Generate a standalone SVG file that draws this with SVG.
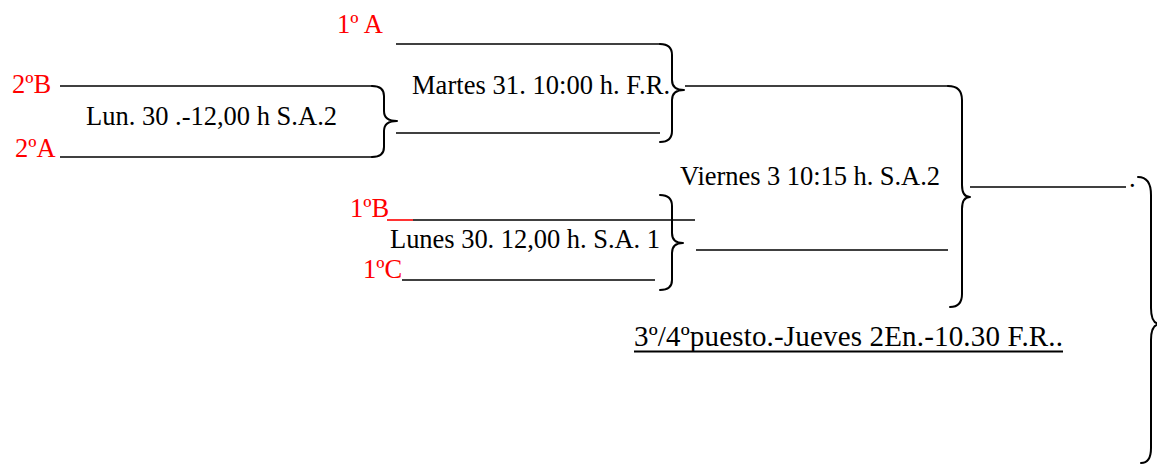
<svg xmlns="http://www.w3.org/2000/svg" width="1157" height="465" viewBox="0 0 1157 465">
<style>
text{font-family:"Liberation Serif","Times New Roman",serif;font-size:26.5px;fill:#000}
.red{fill:#ff0000}
.ln{stroke:#000;stroke-width:1.6;fill:none}
.redln{stroke:#ff0000;stroke-width:1.6;fill:none}
.br{stroke:#000;stroke-width:2;fill:none;stroke-linecap:round;stroke-linejoin:round}
</style>
<rect width="1157" height="465" fill="#fff"/>
<g id="team-1A"><text class="red" x="337" y="33">1º A</text></g>
<g id="team-2B"><text class="red" x="12" y="93">2ºB</text></g>
<g id="team-2A"><text class="red" x="15" y="157">2ºA</text></g>
<g id="team-1B"><text class="red" x="350" y="217">1ºB</text></g>
<g id="team-1C"><text class="red" x="363" y="278">1ºC</text></g>
<g id="match-lun30-sa2">
<text x="86" y="125" textLength="251" lengthAdjust="spacing">Lun. 30 .-12,00 h S.A.2</text>
<path class="br" d="M372,86 Q384,86 384,96 L384,111 Q384,121 397,121 Q384,121 384,131 L384,147 Q384,157 372,157"/>
</g>
<g id="match-martes31">
<text x="412" y="94" textLength="258" lengthAdjust="spacing">Martes 31. 10:00 h. F.R.</text>
<path class="br" d="M660,44 Q672,44 672,55 L672,80 Q672,90 684,90 Q672,90 672,100 L672,131 Q672,142 660,142"/>
</g>
<g id="match-lunes30-sa1">
<text x="390" y="248" textLength="270" lengthAdjust="spacing">Lunes 30. 12,00 h. S.A. 1</text>
<path class="br" d="M660,195 Q672,195 672,206 L672,233 Q672,243 683,243 Q672,243 672,253 L672,280 Q672,290 660,290"/>
</g>
<g id="match-viernes3">
<text x="680" y="185" textLength="260" lengthAdjust="spacing">Viernes 3 10:15 h. S.A.2</text>
<path class="br" d="M948,86 Q962,86 962,100 L962,185 Q962,197 970,197 Q962,197 962,209 L962,294 Q962,307 950,307"/>
</g>
<g id="match-final">
<text x="1129" y="187">.</text>
<path class="br" d="M1138,177 Q1151,177 1151,195 L1151,308 Q1151,324 1160,324 Q1151,324 1151,340 L1151,448 Q1151,463 1141,463"/>
</g>
<g id="match-3-4">
<text x="634" y="346" style="font-size:29px" textLength="429" lengthAdjust="spacing">3º/4ºpuesto.-Jueves 2En.-10.30 F.R..</text>
<line class="ln" x1="634" y1="351.5" x2="1063" y2="351.5" style="stroke-width:2"/>
</g>
<g id="connectors">
<line class="ln" x1="60" y1="86" x2="372" y2="86"/>
<line class="ln" x1="60" y1="157" x2="372" y2="157"/>
<line class="ln" x1="396" y1="44" x2="660" y2="44"/>
<line class="ln" x1="396" y1="133" x2="660" y2="133"/>
<line class="ln" x1="685" y1="86" x2="948" y2="86"/>
<line class="redln" x1="387" y1="220" x2="413" y2="220"/>
<line class="ln" x1="413" y1="220" x2="695" y2="220"/>
<line class="ln" x1="402" y1="280" x2="655" y2="280"/>
<line class="ln" x1="696" y1="250" x2="948" y2="250"/>
<line class="ln" x1="970" y1="187" x2="1126" y2="187"/>
</g>
</svg>
